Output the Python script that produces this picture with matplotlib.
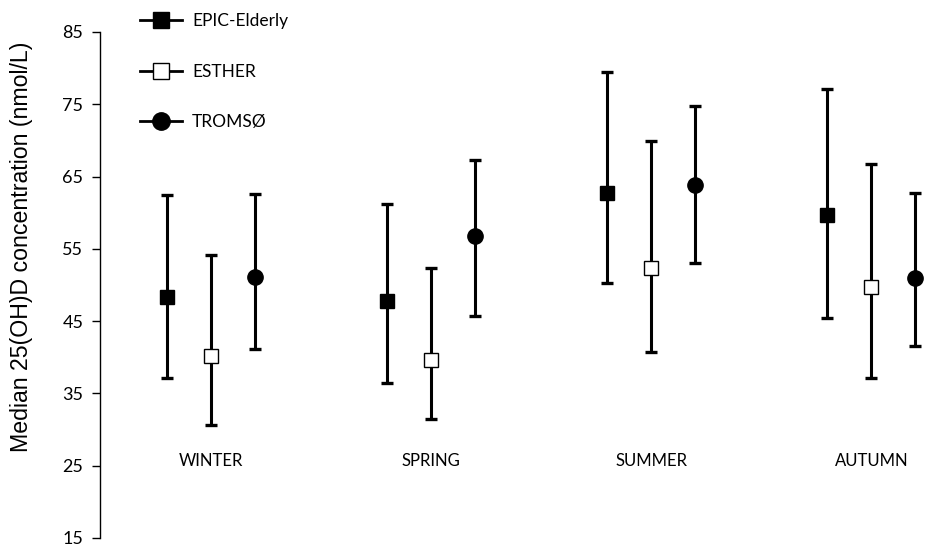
import matplotlib.pyplot as plt
from matplotlib.lines import Line2D
import numpy as np

# Seasons and cohort medians with error bar limits (nmol/L)
seasons = ["WINTER", "SPRING", "SUMMER", "AUTUMN"]
cohorts = ["EPIC-Elderly", "ESTHER", "TROMSØ"]

epic_median = [48.3, 47.8, 62.7, 59.7]
epic_low = [37.1, 36.5, 50.3, 45.4]
epic_high = [62.4, 61.2, 79.4, 77.1]

esther_median = [40.2, 39.6, 52.4, 49.7]
esther_low = [30.7, 31.4, 40.8, 37.1]
esther_high = [54.2, 52.4, 69.9, 66.7]

tromso_median = [51.1, 56.8, 63.9, 50.9]
tromso_low = [41.1, 45.7, 53.1, 41.6]
tromso_high = [62.6, 67.3, 74.8, 62.7]

y_ticks = [15, 25, 35, 45, 55, 65, 75, 85]

plt.rcParams["font.family"] = ["Lato", "DejaVu Sans"]

fig = plt.figure(figsize=(9.29, 5.47), dpi=100)
ax = fig.add_axes([100 / 929, 9 / 547, 829 / 929, 506 / 547])

x = np.arange(len(seasons))
offset = 0.2
styles = [
    dict(marker="s", mfc="black", mec="black", ms=10.5, mew=1),
    dict(marker="s", mfc="white", mec="black", ms=10.5, mew=1),
    dict(marker="o", mfc="black", mec="black", ms=11, mew=1),
]
series = [
    (epic_median, epic_low, epic_high),
    (esther_median, esther_low, esther_high),
    (tromso_median, tromso_low, tromso_high),
]

for i, (med, lo, hi) in enumerate(series):
    med = np.array(med)
    yerr = [med - np.array(lo), np.array(hi) - med]
    ax.errorbar(x + (i - 1) * offset, med, yerr=yerr, fmt="none",
                ecolor="black", elinewidth=2.2, capsize=4, capthick=2.4,
                zorder=2)
    ax.plot(x + (i - 1) * offset, med, linestyle="none", zorder=3,
            **styles[i])

# Season labels sit inside the plot near the 25 line
for xi, name in zip(x, seasons):
    ax.text(xi, 25.6, name, ha="center", va="center", fontsize=12)

ax.set_ylim(15, 85)
ax.set_xlim(-0.506, 3.262)
ax.set_yticks(y_ticks)
ax.tick_params(axis="y", labelsize=13, length=6, width=1, pad=6,
               direction="out")
ax.xaxis.set_visible(False)
for side in ["top", "right", "bottom"]:
    ax.spines[side].set_visible(False)
ax.spines["left"].set_linewidth(1)

ax.set_ylabel("Median 25(OH)D concentration (nmol/L)", fontsize=16.7,
              family=["Liberation Sans", "DejaVu Sans"])
ax.yaxis.set_label_coords(-0.081, 0.575)

# Legend with horizontal line through each marker
handles = [Line2D([0], [0], color="black", lw=2,
                  **dict(s, ms=s["ms"] + 1.5)) for s in styles]
fig.legend(handles, cohorts, loc="upper left",
           bbox_to_anchor=(140 / 929, 1 - 13 / 547),
           bbox_transform=fig.transFigure, frameon=False, fontsize=12.5,
           handlelength=2.4, handletextpad=0.6, labelspacing=2.0,
           borderpad=0, borderaxespad=0)

fig.savefig("out.png", dpi=100)
